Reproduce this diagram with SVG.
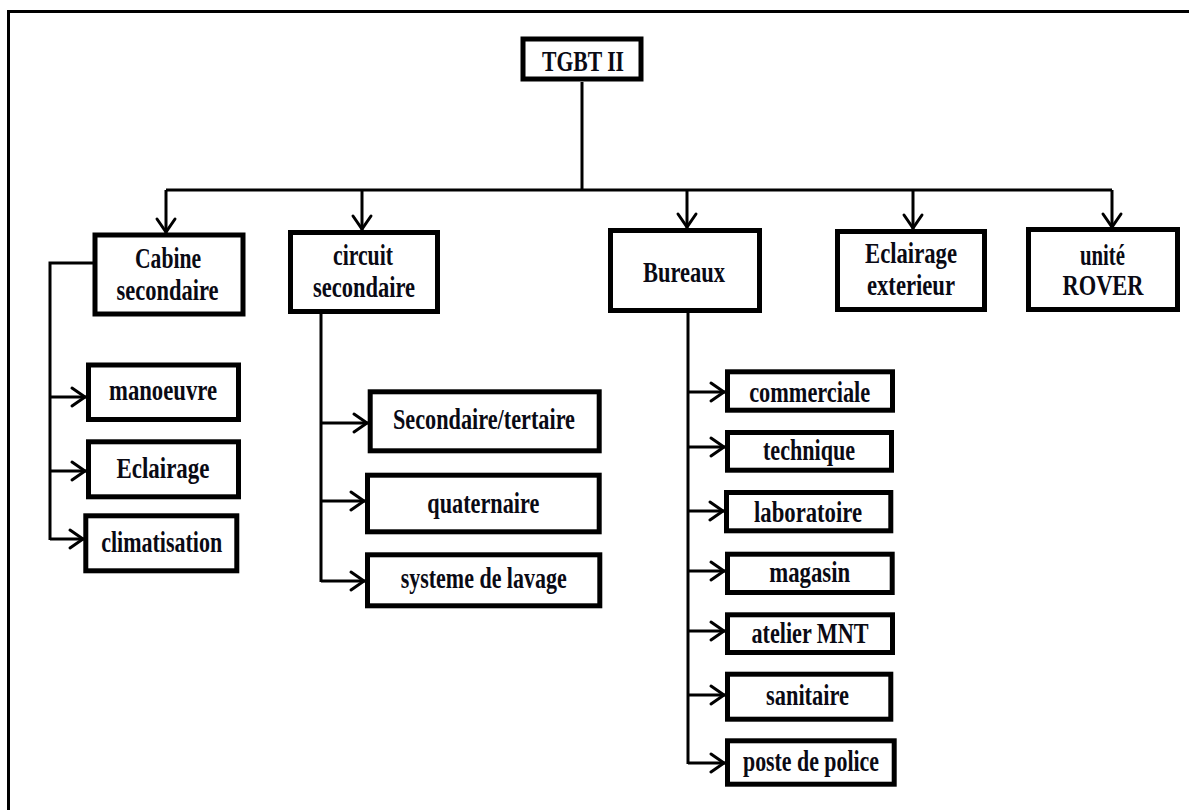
<svg xmlns="http://www.w3.org/2000/svg" width="1189" height="810" viewBox="0 0 1189 810">
  <style>
    .box { fill: #fff; stroke: #000; stroke-width: 5; }
    .wire { fill: none; stroke: #000; stroke-width: 3; }
    .lbl { font-family: "Liberation Serif", "Times New Roman", serif; font-weight: bold; font-size: 30px; fill: #0a0a14; text-anchor: middle; }
  </style>
  <defs>
    <marker id="ah" markerUnits="userSpaceOnUse" markerWidth="30" markerHeight="30" viewBox="-20 -15 30 30" refX="0" refY="0" orient="auto" overflow="visible">
      <path d="M-14,-9 L-1,0 L-14,9" fill="none" stroke="#000" stroke-width="3" stroke-linecap="round"/>
    </marker>
  </defs>

  <rect width="1189" height="810" fill="#fff"/>

  <!-- frame -->
  <path d="M8.5,810 V11.5 H1189" fill="none" stroke="#000" stroke-width="3"/>

  <!-- connectors -->
  <g id="connectors">
    <path class="wire" d="M582,82 V190"/>
    <path class="wire" d="M166,190 H1112"/>
    <path class="wire" d="M166,190 V233" marker-end="url(#ah)"/>
    <path class="wire" d="M362,190 V230" marker-end="url(#ah)"/>
    <path class="wire" d="M687,190 V228" marker-end="url(#ah)"/>
    <path class="wire" d="M913,190 V229" marker-end="url(#ah)"/>
    <path class="wire" d="M1112,190 V228" marker-end="url(#ah)"/>

    <path class="wire" d="M95,263 H50 V540"/>
    <path class="wire" d="M50,397 H86" marker-end="url(#ah)"/>
    <path class="wire" d="M50,471 H86" marker-end="url(#ah)"/>
    <path class="wire" d="M50,539 H84" marker-end="url(#ah)"/>

    <path class="wire" d="M321,314 V582"/>
    <path class="wire" d="M321,423 H368" marker-end="url(#ah)"/>
    <path class="wire" d="M321,501 H365" marker-end="url(#ah)"/>
    <path class="wire" d="M321,581 H365" marker-end="url(#ah)"/>

    <path class="wire" d="M688,313 V764"/>
    <path class="wire" d="M688,392 H725" marker-end="url(#ah)"/>
    <path class="wire" d="M688,447 H725" marker-end="url(#ah)"/>
    <path class="wire" d="M688,511 H724" marker-end="url(#ah)"/>
    <path class="wire" d="M688,571 H725" marker-end="url(#ah)"/>
    <path class="wire" d="M688,631 H725" marker-end="url(#ah)"/>
    <path class="wire" d="M688,695 H725" marker-end="url(#ah)"/>
    <path class="wire" d="M688,763 H725" marker-end="url(#ah)"/>
  </g>

  <!-- top level -->
  <g id="tgbt">
    <rect class="box" x="523" y="39" width="118" height="40"/>
    <text class="lbl" x="583" y="70.5" textLength="82" lengthAdjust="spacingAndGlyphs">TGBT II</text>
  </g>

  <!-- second level -->
  <g id="cabine-secondaire">
    <rect class="box" x="95" y="235" width="148" height="79"/>
    <text class="lbl" x="168" y="268" textLength="66" lengthAdjust="spacingAndGlyphs">Cabine</text>
    <text class="lbl" x="167.5" y="300" textLength="102" lengthAdjust="spacingAndGlyphs">secondaire</text>
  </g>
  <g id="circuit-secondaire">
    <rect class="box" x="290.5" y="232.5" width="147" height="79"/>
    <text class="lbl" x="363" y="265" textLength="60" lengthAdjust="spacingAndGlyphs">circuit</text>
    <text class="lbl" x="364" y="297" textLength="102" lengthAdjust="spacingAndGlyphs">secondaire</text>
  </g>
  <g id="bureaux">
    <rect class="box" x="610.5" y="230.5" width="149" height="80"/>
    <text class="lbl" x="684" y="281.5" textLength="82" lengthAdjust="spacingAndGlyphs">Bureaux</text>
  </g>
  <g id="eclairage-exterieur">
    <rect class="box" x="837.5" y="231.5" width="147" height="78"/>
    <text class="lbl" x="911" y="263" textLength="92" lengthAdjust="spacingAndGlyphs">Eclairage</text>
    <text class="lbl" x="911" y="295" textLength="88" lengthAdjust="spacingAndGlyphs">exterieur</text>
  </g>
  <g id="unite-rover">
    <rect class="box" x="1028.5" y="229.5" width="149" height="80"/>
    <text class="lbl" x="1102.5" y="265" textLength="45" lengthAdjust="spacingAndGlyphs">unité</text>
    <text class="lbl" x="1103" y="295" textLength="81" lengthAdjust="spacingAndGlyphs">ROVER</text>
  </g>

  <!-- cabine secondaire children -->
  <g id="manoeuvre">
    <rect class="box" x="88.5" y="365" width="150" height="54.5"/>
    <text class="lbl" x="163" y="400" textLength="108" lengthAdjust="spacingAndGlyphs">manoeuvre</text>
  </g>
  <g id="eclairage">
    <rect class="box" x="88.5" y="441.8" width="150" height="55"/>
    <text class="lbl" x="163" y="478" textLength="93" lengthAdjust="spacingAndGlyphs">Eclairage</text>
  </g>
  <g id="climatisation">
    <rect class="box" x="85.8" y="515.8" width="151" height="55"/>
    <text class="lbl" x="161.7" y="551.7" textLength="121" lengthAdjust="spacingAndGlyphs">climatisation</text>
  </g>

  <!-- circuit secondaire children -->
  <g id="secondaire-tertaire">
    <rect class="box" x="370.2" y="391.8" width="229" height="59"/>
    <text class="lbl" x="484" y="429.3" textLength="182" lengthAdjust="spacingAndGlyphs">Secondaire/tertaire</text>
  </g>
  <g id="quaternaire">
    <rect class="box" x="367.5" y="475.2" width="231.7" height="56.6"/>
    <text class="lbl" x="483.3" y="513" textLength="112" lengthAdjust="spacingAndGlyphs">quaternaire</text>
  </g>
  <g id="systeme-de-lavage">
    <rect class="box" x="367.5" y="554.8" width="232.3" height="51"/>
    <text class="lbl" x="483.7" y="588.3" textLength="166" lengthAdjust="spacingAndGlyphs">systeme de lavage</text>
  </g>

  <!-- bureaux children -->
  <g id="commerciale">
    <rect class="box" x="727.5" y="371.8" width="165" height="38.4"/>
    <text class="lbl" x="809.7" y="401.7" textLength="121" lengthAdjust="spacingAndGlyphs">commerciale</text>
  </g>
  <g id="technique">
    <rect class="box" x="727.5" y="432.5" width="164" height="37.7"/>
    <text class="lbl" x="809" y="460" textLength="92" lengthAdjust="spacingAndGlyphs">technique</text>
  </g>
  <g id="laboratoire">
    <rect class="box" x="726.5" y="492.5" width="164.3" height="38.3"/>
    <text class="lbl" x="808" y="521.7" textLength="108" lengthAdjust="spacingAndGlyphs">laboratoire</text>
  </g>
  <g id="magasin">
    <rect class="box" x="727.5" y="554.2" width="164.7" height="38.3"/>
    <text class="lbl" x="809.7" y="581.7" textLength="81" lengthAdjust="spacingAndGlyphs">magasin</text>
  </g>
  <g id="atelier-mnt">
    <rect class="box" x="727.5" y="614.8" width="165" height="37.7"/>
    <text class="lbl" x="810" y="643.3" textLength="117" lengthAdjust="spacingAndGlyphs">atelier MNT</text>
  </g>
  <g id="sanitaire">
    <rect class="box" x="727.5" y="674.2" width="163.3" height="45"/>
    <text class="lbl" x="807.5" y="705" textLength="83" lengthAdjust="spacingAndGlyphs">sanitaire</text>
  </g>
  <g id="poste-de-police">
    <rect class="box" x="727.5" y="740.8" width="166.7" height="43.4"/>
    <text class="lbl" x="811" y="770.7" textLength="136" lengthAdjust="spacingAndGlyphs">poste de police</text>
  </g>
</svg>
